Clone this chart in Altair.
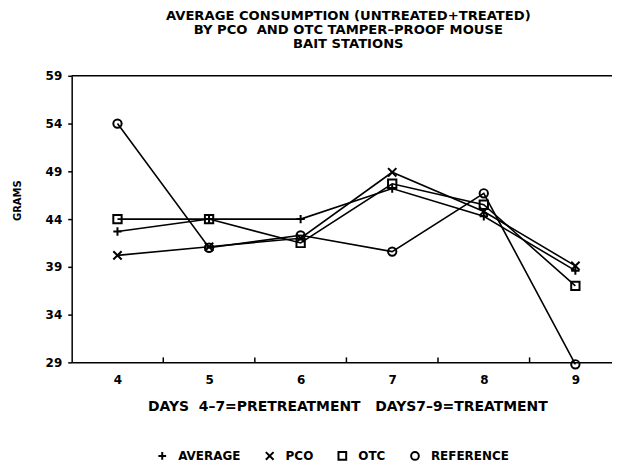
import altair as alt
import pandas as pd

# ---- data ----
days = [4, 5, 6, 7, 8, 9]
average = [42.7, 44.0, 44.0, 47.2, 44.3, 38.6]
pco = [40.2, 41.1, 42.0, 48.9, 44.8, 39.1]
otc = [44.0, 44.0, 41.5, 47.7, 45.5, 37.0]
reference = [54.0, 41.0, 42.3, 40.6, 46.7, 28.8]
series_names = ["AVERAGE", "PCO", "OTC", "REFERENCE"]
y_ticks = [29, 34, 39, 44, 49, 54, 59]
minor_ticks = [4.5, 5.5, 6.5, 7.5, 8.5]
title_lines = [
    "AVERAGE CONSUMPTION (UNTREATED+TREATED)",
    "BY PCO\u00a0\u00a0AND OTC TAMPER\u2013PROOF MOUSE",
    "BAIT STATIONS",
]
x_title = "DAYS\u00a0\u00a04\u20137=PRETREATMENT\u00a0\u00a0\u00a0DAYS7\u20139=TREATMENT"
y_title = "GRAMS"

rows = []
for name, vals in zip(series_names, [average, pco, otc, reference]):
    for d, v in zip(days, vals):
        rows.append({"day": d, "grams": v, "series": name})
df = pd.DataFrame(rows)
minor_df = pd.DataFrame({"day": minor_ticks})

W, H = 543, 288
FONT = "DejaVu Sans"

x_scale = alt.Scale(domain=[3.5, 9.4], nice=False, zero=False)
y_scale = alt.Scale(domain=[29, 59], nice=False, zero=False)

plus_path = "M-1,0L1,0M0,-1L0,1"
x_path = "M-1,-1L1,1M-1,1L1,-1"

lines = alt.Chart(df).mark_line(color="black", strokeWidth=1.6).encode(
    x=alt.X("day:Q", scale=x_scale,
            axis=alt.Axis(values=days, format="d", ticks=False, grid=False, title=x_title,
                          labelFont=FONT, labelFontSize=12, labelFontWeight="bold",
                          labelColor="black", labelPadding=12, domainColor="black",
                          domainWidth=1.5, titleFont=FONT, titleFontSize=14,
                          titleFontWeight="bold", titleColor="black", titleY=37,
                          titleX=277, titleBaseline="top")),
    y=alt.Y("grams:Q", scale=y_scale,
            axis=alt.Axis(values=y_ticks, grid=False, tickSize=4, tickColor="black",
                          tickWidth=1.5, labelFont=FONT, labelFontSize=12,
                          labelFontWeight="bold", labelColor="black", labelPadding=6,
                          domainColor="black", domainWidth=1.5, title=y_title,
                          titleFont=FONT, titleFontSize=10, titleFontWeight="bold",
                          titleColor="black", titleX=-54, titleY=125, titleAngle=-90,
                          titleAlign="center", titleBaseline="middle")),
    detail="series:N",
)

points = alt.Chart(df).mark_point(filled=False, color="black", strokeWidth=2, size=70, opacity=1).encode(
    x=alt.X("day:Q", scale=x_scale),
    y=alt.Y("grams:Q", scale=y_scale),
    shape=alt.Shape("series:N",
                    scale=alt.Scale(domain=series_names,
                                    range=[plus_path, x_path, "square", "circle"]),
                    legend=alt.Legend(title=None, orient="none", direction="horizontal",
                                      legendX=85, legendY=376, labelFont=FONT,
                                      labelFontSize=12, labelFontWeight="bold",
                                      labelColor="black", symbolStrokeColor="black",
                                      symbolStrokeWidth=2, symbolSize=60,
                                      symbolFillColor="white", columnPadding=21,
                                      labelOffset=10)),
)

minor = alt.Chart(minor_df).mark_rule(color="black", strokeWidth=1.5).encode(
    x=alt.X("day:Q", scale=x_scale),
    y=alt.value(H),
    y2=alt.value(H - 5),
)

top_border = alt.Chart(minor_df.head(1)).mark_rule(color="black", strokeWidth=1.5).encode(
    x=alt.value(0), x2=alt.value(W), y=alt.value(0),
)

title_layers = []
title_pos = [(278, -60), (278, -46), (278, -32)]
for line, (px, py) in zip(title_lines, title_pos):
    title_layers.append(
        alt.Chart(pd.DataFrame({"t": [line]})).mark_text(
            font=FONT, fontSize=13.2, fontWeight="bold", color="black",
            align="center", baseline="middle",
        ).encode(text="t:N", x=alt.value(px), y=alt.value(py))
    )

chart = alt.layer(lines, points, minor, top_border, *title_layers).properties(
    width=W, height=H,
    autosize=alt.AutoSizeParams(type="none"),
    padding={"left": 64, "top": 67, "right": 0, "bottom": 101},
    background="white",
).configure_view(stroke=None)

chart.save("out.html", embed_options={"renderer": "svg", "actions": False})
